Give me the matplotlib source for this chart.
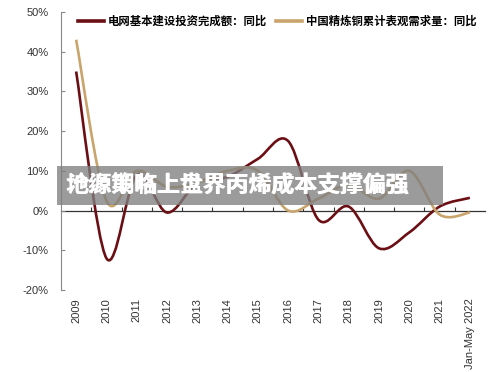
import numpy as np
import matplotlib
matplotlib.use("Agg")
import matplotlib.pyplot as plt
from matplotlib.path import Path
from matplotlib.patches import PathPatch, Rectangle
from matplotlib.lines import Line2D

plt.rcParams['font.family'] = ['Noto Sans CJK SC', 'DejaVu Sans']

years = ["2009", "2010", "2011", "2012", "2013", "2014", "2015", "2016",
         "2017", "2018", "2019", "2020", "2021", "Jan-May 2022"]
grid_yoy = [35, -12, 9, -0.5, 7, 8.5, 13, 17.5, -2.3, 1, -9.5, -5.5, 1, 3.2]
copper_yoy = [43, 2.5, 10, 6, 7, 10, 10, 0, 3, 6.5, 3, 10, -1, -0.5]
name_grid = "电网基本建设投资完成额：同比"
name_copper = "中国精炼铜累计表观需求量：同比"
overlay_a = "地缘策略上世界丙烯成本支撑偏强"
overlay_b = "沧源期临上盘界丙烯成本支撑偏强"

C_GRID = "#6B0F14"
C_COPPER = "#C9A46C"


def smooth_path(x, y):
    # Excel 风格平滑线: 三次 Bezier, 控制点取相邻点差的 1/6
    pts = np.column_stack([x, y]).astype(float)
    n = len(pts)
    verts = [pts[0]]
    codes = [Path.MOVETO]
    for i in range(n - 1):
        p0 = pts[i - 1] if i > 0 else pts[i]
        p1, p2 = pts[i], pts[i + 1]
        p3 = pts[i + 2] if i + 2 < n else pts[i + 1]
        c1 = p1 + (p2 - p0) / 6.0
        c2 = p2 - (p3 - p1) / 6.0
        verts += [c1, c2, p2]
        codes += [Path.CURVE4] * 3
    return Path(verts, codes)


fig = plt.figure(figsize=(5.0, 3.72), dpi=100)
ax = fig.add_axes([0.122, 0.2204, 0.848, 0.7476])

xs = np.arange(len(years))
for vals, col in [(grid_yoy, C_GRID), (copper_yoy, C_COPPER)]:
    ax.add_patch(PathPatch(smooth_path(xs, vals), fill=False, edgecolor=col,
                           lw=1.9, capstyle="butt", zorder=3))

ax.set_xlim(-0.5, len(years) - 0.5)
ax.set_ylim(-20, 50)
ax.set_yticks(range(-20, 51, 10))
ax.set_yticklabels([f"{v}%" for v in range(-20, 51, 10)], fontsize=8, color="#333333",
                   family=["Liberation Sans", "DejaVu Sans"])
ax.tick_params(axis="y", direction="in", length=3, color="#888888", pad=9)

ax.set_xticks(xs)
ax.set_xticklabels(years, rotation=90, fontsize=8, color="#333333",
                   family=["Liberation Sans", "DejaVu Sans"])
ax.tick_params(axis="x", length=0, pad=6)

for s in ["top", "right", "bottom"]:
    ax.spines[s].set_visible(False)
ax.spines["left"].set_color("#888888")
ax.spines["left"].set_linewidth(0.8)

# 0% 轴线 + 类别分隔刻度
sec = ax.secondary_xaxis(20 / 70)
sec.set_xticks(np.arange(0.5, len(years) - 0.5, 1.0))
sec.set_xticklabels([])
sec.tick_params(direction="in", length=3, color="#333333")
sec.spines["bottom"].set_color("#333333")
sec.spines["bottom"].set_linewidth(0.9)

handles = [Line2D([], [], color=C_GRID, lw=2.6), Line2D([], [], color=C_COPPER, lw=2.6)]
ax.legend(handles, [name_grid, name_copper], loc="upper center", ncol=2, frameon=False,
          bbox_to_anchor=(0.51, 1.025), handlelength=2.3, handletextpad=0.3,
          columnspacing=0.8, prop={"size": 8.2, "weight": "bold"})

# 灰色水印条
fig.add_artist(Rectangle((0.114, 0.449), 0.772, 0.105, transform=fig.transFigure,
                         facecolor="#7f7f7f", alpha=0.78, edgecolor="none", zorder=10))
for t in (overlay_a, overlay_b):
    fig.text(0.132, 0.5, t, color="white", fontsize=16.5, fontweight="bold",
             va="center", ha="left", zorder=11)

fig.savefig("out.png", dpi=100)
